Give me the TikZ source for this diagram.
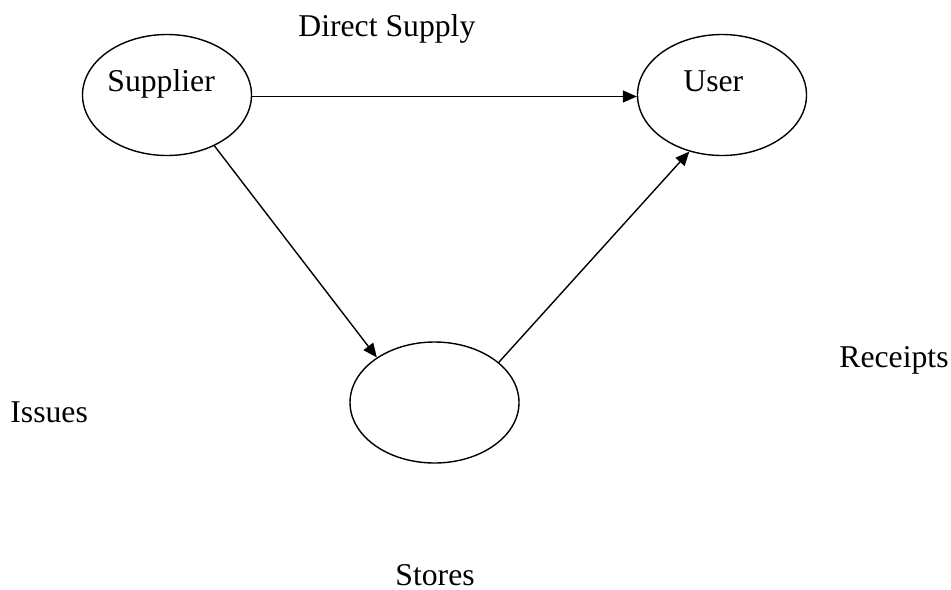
\documentclass[tikz,border=0pt]{standalone}
\usepackage{fontspec}
\setmainfont{Liberation Serif}
\usetikzlibrary{shapes.geometric,arrows.meta}
\tikzset{
  oval/.style={draw, ellipse, line width=0.7pt, inner sep=0pt, minimum width=84.5pt, minimum height=60.5pt},
  lbl/.style={anchor=base west, inner sep=0pt, font=\fontsize{15.85}{19}\selectfont},
  flow/.style={line width=0.7pt, -{Triangle[length=7pt,width=6pt]}}
}
\begin{document}
\begin{tikzpicture}[x=0.5pt,y=-0.5pt]
\useasboundingbox (0,0) rectangle (951,589);
\node[oval] (sup) at (167,95) {};
\node[oval] (user) at (722,95) {};
\node[oval] (stores) at (434.5,402.5) {};
\node[lbl] (tsup) at (107,91) {Supplier};
\node[lbl] (tuser) at (683,91) {User};
\node[lbl] (tdirect) at (298,36) {Direct Supply};
\node[lbl] (treceipts) at (839,367) {Receipts};
\node[lbl] (tissues) at (10,422) {Issues};
\node[lbl] (tstores) at (395,585) {Stores};
\draw[flow] (sup.-1.35) -- (user.181.35);
\draw[flow] (sup.-47.4) -- (stores.142.6);
\draw[flow] (stores.32.4) -- (user.-120.4);
\end{tikzpicture}
\end{document}
